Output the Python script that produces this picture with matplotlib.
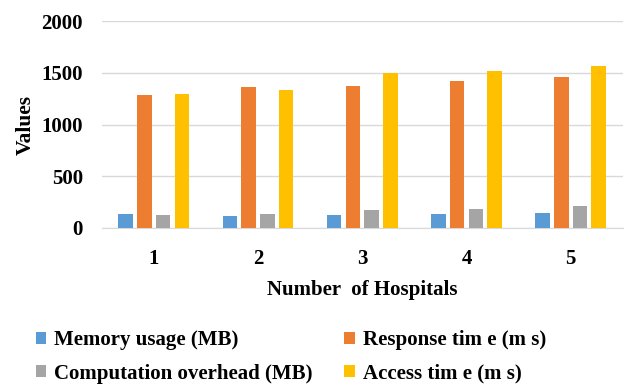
import matplotlib
matplotlib.use("Agg")
import matplotlib.pyplot as plt
import numpy as np

categories = ["1", "2", "3", "4", "5"]
memory_usage = [135, 112, 122, 135, 148]
response_time = [1288, 1362, 1375, 1417, 1459]
computation_overhead = [125, 135, 170, 180, 212]
access_time = [1300, 1333, 1494, 1517, 1568]

series = [
    ("Memory usage (MB)", memory_usage, "#5B9BD5"),
    ("Response tim e (m s)", response_time, "#ED7D31"),
    ("Computation overhead (MB)", computation_overhead, "#A5A5A5"),
    ("Access tim e (m s)", access_time, "#FFC000"),
]

plt.rcParams['font.family'] = ['Liberation Serif', 'DejaVu Serif']
plt.rcParams['font.weight'] = 'bold'

fig = plt.figure(figsize=(6.24, 3.85), dpi=100)
ax = fig.add_axes([0.163, 0.408, 0.835, 0.537])

x = np.arange(len(categories))
width = 0.14
offsets = [-0.27, -0.09, 0.09, 0.27]
for (label, vals, color), off in zip(series, offsets):
    ax.bar(x + off, vals, width, color=color, label=label, zorder=3)

ax.set_xlim(-0.5, len(categories) - 0.5)
ax.set_ylim(0, 2000)
ax.set_yticks([0, 500, 1000, 1500, 2000])
ax.set_xticks(x)
ax.set_xticklabels(categories)
ax.grid(axis='y', color='#D9D9D9', linewidth=1, zorder=0)
for s in ['top', 'right', 'left']:
    ax.spines[s].set_visible(False)
ax.spines['bottom'].set_color('#D9D9D9')
ax.tick_params(axis='both', length=0, labelsize=15)
ax.tick_params(axis='y', pad=13.5)
ax.tick_params(axis='x', pad=15)
for lab in ax.get_xticklabels() + ax.get_yticklabels():
    lab.set_fontweight('bold')
ax.set_xlabel("Number  of Hospitals", fontsize=15, fontweight='bold', labelpad=8)
ax.set_ylabel("Values", fontsize=15.5, fontweight='bold', labelpad=4)

handles, labels = ax.get_legend_handles_labels()
order = [0, 2, 1, 3]
fig.legend([handles[i] for i in order], [labels[i] for i in order], ncol=2,
           loc='lower left', bbox_to_anchor=(0.027, -0.045),
           frameon=False, prop={'size': 15, 'weight': 'bold'},
           handlelength=0.5, handleheight=0.5, handletextpad=0.4,
           columnspacing=1.5, labelspacing=0.65)

fig.savefig("out.png", dpi=100)
